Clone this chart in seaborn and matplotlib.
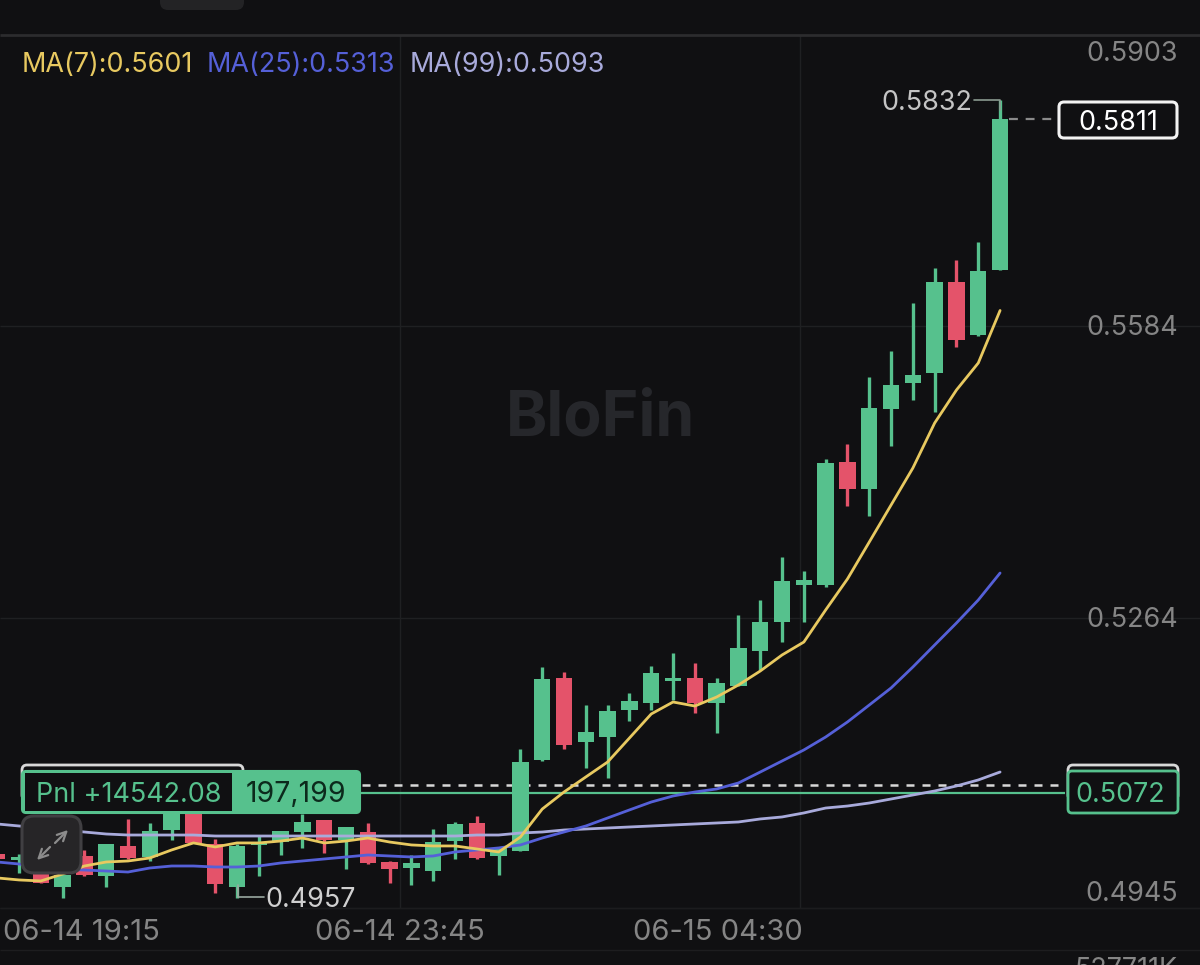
import matplotlib
matplotlib.use("Agg")
import matplotlib.pyplot as plt
from matplotlib.patches import FancyBboxPatch, Rectangle
import seaborn as sns
import pandas as pd

open_price = [.50048, .49982, .49850, .49686, .50026, .49806, .50136, .50015, .50311, .50552,
              .50158, .49686, .50147, .50179, .50289, .50421, .50201, .50289, .49960, .49894,
              .49861, .50190, .50388, .50026, .50081, .51079, .51979, .51276, .51331, .51628,
              .51704, .51946, .51979, .51704, .51891, .52275, .52593, .52999, .52999, .54348,
              .54052, .54929, .55215, .55324, .56323, .55741, .56454]
high_price = [.50048, .50048, .49850, .49817, .50092, .50158, .50432, .50388, .50640, .50552,
              .50212, .50158, .50245, .50300, .50487, .50421, .50344, .50388, .49971, .50037,
              .50322, .50399, .50465, .50114, .51200, .52099, .52044, .51682, .51682, .51814,
              .52110, .52253, .52143, .51979, .52670, .52834, .53306, .53152, .54381, .54546,
              .55281, .55566, .56092, .56476, .56564, .56761, .58320]
low_price = [.49993, .49839, .49730, .49570, .49806, .49686, .49993, .49971, .50201, .50169,
             .49620, .49570, .49806, .50037, .50114, .50059, .49883, .49938, .49730, .49708,
             .49752, .49993, .49993, .49817, .50081, .51068, .51200, .50991, .50882, .51507,
             .51628, .51737, .51595, .51375, .51891, .52066, .52373, .52593, .52977, .53865,
             .53756, .54524, .55028, .54897, .55610, .55730, .56454]
close_price = [.49993, .50015, .49730, .49817, .49817, .50158, .50004, .50300, .50574, .50169,
               .49719, .50136, .50179, .50300, .50399, .50201, .50344, .49949, .49883, .49949,
               .50179, .50377, .50004, .50114, .51057, .51968, .51244, .51386, .51617, .51726,
               .52033, .51979, .51704, .51924, .52308, .52593, .53043, .53054, .54337, .54052,
               .54940, .55193, .55302, .56323, .55686, .56443, .58110]

ma7 = [.49785, .49763, .49752, .49828, .49916, .49960, .49971, .50004, .50092, .50169,
       .50125, .50169, .50169, .50190, .50223, .50169, .50190, .50223, .50179, .50147,
       .50136, .50136, .50103, .50070, .50234, .50541, .50728, .50893, .51057, .51320,
       .51584, .51715, .51671, .51770, .51902, .52055, .52231, .52373, .52725, .53065,
       .53470, .53876, .54282, .54776, .55138, .55434, .56010]
ma25 = [.49960, .49938, .49894, .49883, .49872, .49861, .49850, .49894, .49916, .49916,
        .49905, .49905, .49916, .49949, .49971, .49993, .50015, .50037, .50026, .50015,
        .50026, .50070, .50092, .50114, .50147, .50223, .50289, .50355, .50443, .50531,
        .50618, .50684, .50728, .50761, .50827, .50947, .51068, .51189, .51331, .51496,
        .51682, .51869, .52099, .52341, .52582, .52834, .53130]
ma99 = [.50377, .50355, .50333, .50311, .50289, .50267, .50256, .50256, .50256, .50256,
        .50245, .50245, .50245, .50245, .50245, .50245, .50245, .50245, .50245, .50245,
        .50245, .50245, .50256, .50256, .50278, .50289, .50311, .50322, .50333, .50344,
        .50355, .50366, .50377, .50388, .50399, .50432, .50454, .50498, .50552, .50574,
        .50607, .50651, .50695, .50739, .50794, .50860, .50947]

grid_prices = [0.5584, 0.5264, 0.4945]
grid_times = [18.48, 36.83]
position_price = 0.5072
dashed_price = 0.50805
last_price = 0.5811

y_labels = ["0.5903", "0.5584", "0.5264", "0.4945"]
x_labels = ["06-14 19:15", "06-14 23:45", "06-15 04:30"]
ma_labels = ["MA(7):0.5601", "MA(25):0.5313", "MA(99):0.5093"]

BG = "#101012"
GREEN = "#56c18d"
RED = "#e4536a"
YELLOW = "#e8c960"
BLUE = "#5560d8"
LILAC = "#a8aadb"
GRID = "#1f2022"
GRAY = "#858585"

sns.set_theme(style="dark")
plt.rcParams['font.family'] = ['Inter', 'DejaVu Sans']

df = pd.DataFrame({
    "i": range(len(open_price)),
    "open": open_price, "high": high_price, "low": low_price, "close": close_price,
    "ma7": ma7, "ma25": ma25, "ma99": ma99,
})
df["color"] = [GREEN if c >= o else RED for o, c in zip(df["open"], df["close"])]

fig = plt.figure(figsize=(12, 9.65), dpi=100, facecolor=BG)
ax = fig.add_axes([0, 0, 1, 1], facecolor=BG)
ax.axis("off")

# grid
ax.hlines(grid_prices, 0.128, 55.17, color=GRID, lw=1, zorder=1)
ax.vlines(grid_times, 0.4945, 0.5903, color=GRID, lw=1, zorder=1)

# position lines run under the candles
ax.hlines(dashed_price, 16, 49, color="#d8d8d8", lw=1.8, linestyles=(0, (3.2, 3.2)), zorder=2)
ax.hlines(position_price, 16, 49, color=GREEN, lw=1.6, zorder=2)
ax.hlines(last_price, 46.4, 48.5, color="#8a8a8a", lw=1.6, linestyles=(0, (4, 3.5)), zorder=2)

# candles
ax.vlines(df["i"], df["low"], df["high"], color=df["color"], lw=2.4, zorder=3)
ax.bar(df["i"], (df["close"] - df["open"]).abs(), bottom=df[["open", "close"]].min(axis=1),
       width=0.75, color=df["color"], linewidth=0, zorder=3)

# moving averages
sns.lineplot(data=df, x="i", y="ma99", color=LILAC, lw=2, ax=ax, zorder=4)
sns.lineplot(data=df, x="i", y="ma25", color=BLUE, lw=2, ax=ax, zorder=5)
sns.lineplot(data=df, x="i", y="ma7", color=YELLOW, lw=2, ax=ax, zorder=6)
ax.set_xlim(0.128, 55.17)
ax.set_ylim(0.48830, 0.59416)

# overlay in screen pixels for the app's labels and buttons
ov = fig.add_axes([0, 0, 1, 1], facecolor="none")
ov.set_xlim(0, 1200)
ov.set_ylim(965, 0)
ov.axis("off")


def box(x0, y0, x1, y1, face, edge, lw=2.0, r=5, z=2):
    ov.add_patch(FancyBboxPatch((x0 + r, y0 + r), x1 - x0 - 2 * r, y1 - y0 - 2 * r,
                                boxstyle=f"round,pad={r},rounding_size={r}",
                                fc=face, ec=edge, lw=lw, zorder=z))


FS = 19.4

# top strip
ov.add_patch(FancyBboxPatch((166, -20), 72, 24, boxstyle="round,pad=6,rounding_size=8",
                            fc="#232325", ec="none", zorder=1))
ov.hlines(35, 0, 1200, color="#2c2c2e", lw=2)
ov.hlines(950, 0, 1200, color="#1d1d1f", lw=1)
ov.hlines(908, 0, 1200, color="#1c1c1e", lw=1)

# watermark
ov.text(600, 419, "BloFin", color="#26272b", fontsize=45, fontweight="bold",
        ha="center", va="center", zorder=0)

# indicator header
for lab, col, x in zip(ma_labels, [YELLOW, BLUE, LILAC], [22, 207, 410]):
    ov.text(x, 65, lab, color=col, fontsize=FS, ha="left", va="center")

# axis labels
for lab, y in zip(y_labels, [54, 328, 620, 894]):
    ov.text(1178, y, lab, color=GRAY, fontsize=FS, ha="right", va="center")
for lab, x in zip(x_labels, [81, 400, 718]):
    ov.text(x, 932, lab, color=GRAY, fontsize=21, ha="center", va="center")
ov.text(1178, 957, "527711K", color=GRAY, fontsize=FS, ha="right", va="top")

# high / low / last labels
ov.text(972, 103, "0.5832", color="#c4c4c4", fontsize=FS, ha="right", va="center")
ov.plot([974, 1000, 1000], [100, 100, 110], color="#8a9a90", lw=1.2)
ov.text(265, 900, "0.4957", color="#d0d0d0", fontsize=FS, ha="left", va="center")
ov.plot([238, 238, 264], [885, 897, 897], color="#9aa8a0", lw=1.2, zorder=1)
box(1059, 102, 1177, 138, BG, "#f2f2f2", lw=2.2)
ov.text(1118, 122.5, "0.5811", color="white", fontsize=FS, ha="center", va="center", zorder=3)

# expand button
box(22, 816, 81, 873, "#262527", "#403f42", lw=2.2, r=12)
for start, end in [((50, 847), (37, 860)), ((55, 843), (68, 830))]:
    ov.annotate("", xy=end, xytext=start, zorder=3,
                arrowprops=dict(arrowstyle="->", color="#8c8c8c", lw=1.6,
                                mutation_scale=16, shrinkA=0, shrinkB=0))

# position label, the white order tag sits behind it
box(22, 765, 243, 800, BG, "#d8d8d8", lw=2, z=2)
box(1068, 765, 1178, 800, BG, "#d8d8d8", lw=2, z=2)
box(22, 771, 360, 813, GREEN, GREEN, lw=1.5, r=4, z=3)
ov.add_patch(Rectangle((25, 773), 207, 38, fc=BG, ec="none", zorder=4))
ov.text(36, 794.5, "Pnl +14542.08", color=GREEN, fontsize=FS, ha="left", va="center", zorder=5)
ov.text(296, 794.5, "197,199", color="#0c2a1c", fontsize=20.5, ha="center", va="center", zorder=5)
box(1068, 771, 1178, 813, BG, GREEN, lw=2, r=4, z=3)
ov.text(1120, 794.5, "0.5072", color=GREEN, fontsize=FS, ha="center", va="center", zorder=5)

fig.savefig("out.png", dpi=100, facecolor=BG)
